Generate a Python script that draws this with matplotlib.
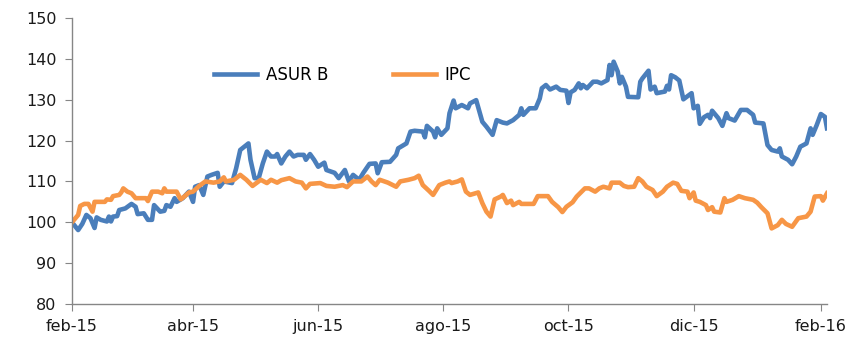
import matplotlib
matplotlib.use("Agg")
import matplotlib.pyplot as plt
import pandas as pd
import numpy as np

# dias desde el 2 de febrero de 2015
inicio = pd.Timestamp("2015-02-02")

asur_dias = [0, 3, 5, 7, 9, 11, 12, 14, 17, 18, 19, 20, 22, 23, 26, 29, 31, 32, 35, 37,
             39, 40, 43, 45, 46, 48, 50, 51, 54, 57, 59, 60, 62, 64, 66, 68, 71, 72, 74, 78,
             80, 82, 84, 86, 87, 89, 91, 93, 95, 97, 99, 100, 102, 104, 106, 108, 110, 113, 114, 116,
             118, 120, 123, 124, 128, 130, 133, 135, 137, 140, 142, 145, 148, 149, 151, 155, 158, 159, 163, 165,
             167, 171, 172, 173, 176, 177, 178, 180, 183, 184, 186, 187, 190, 193, 194, 197, 200, 202, 205, 207,
             210, 212, 215, 218, 219, 220, 223, 226, 228, 229, 231, 233, 236, 238, 241, 242, 243, 245, 247, 248,
             249, 251, 254, 256, 258, 261, 262, 263, 264, 266, 267, 268, 270, 271, 276, 277, 278, 281, 282, 284,
             285, 289, 290, 291, 292, 294, 296, 298, 301, 302, 303, 305, 306, 308, 310, 311, 312, 315, 317, 319,
             320, 323, 326, 329, 332, 333, 337, 339, 341, 344, 345, 346, 349, 351, 353, 355, 358, 360, 361, 363,
             365, 367, 368]
asur_b = [100.0, 98.1, 99.6, 101.8, 101.0, 98.6, 101.2, 100.6, 100.2, 101.4, 100.2, 101.4, 101.5, 103.0, 103.4, 104.5, 103.8, 102.0, 102.2, 100.6,
          100.6, 104.2, 102.6, 102.8, 104.2, 103.8, 105.9, 105.0, 105.9, 107.5, 105.0, 108.7, 109.1, 106.7, 111.2, 111.6, 112.1, 108.7, 110.0, 109.6,
          113.2, 117.7, 118.5, 119.3, 115.3, 110.8, 110.8, 114.4, 117.3, 116.1, 116.1, 116.7, 114.4, 116.1, 117.3, 116.1, 116.5, 116.5, 115.3, 116.7,
          115.3, 113.6, 114.6, 112.8, 112.1, 110.8, 112.8, 110.0, 111.6, 110.4, 112.1, 114.3, 114.4, 112.0, 114.7, 114.8, 116.5, 118.1, 119.3, 122.2,
          122.4, 122.2, 120.8, 123.6, 122.2, 120.8, 123.0, 121.4, 123.0, 126.7, 129.8, 127.9, 128.7, 127.9, 129.1, 129.9, 124.6, 123.4, 121.4, 125.0,
          124.4, 124.2, 125.0, 126.3, 127.9, 126.3, 127.9, 127.9, 130.3, 132.8, 133.6, 132.5, 133.2, 132.4, 132.2, 129.2, 131.8, 132.4, 134.0, 132.8,
          133.6, 132.8, 134.4, 134.4, 134.0, 134.8, 138.5, 136.0, 139.3, 136.9, 134.0, 135.6, 133.2, 130.7, 130.6, 134.4, 135.2, 137.1, 132.5, 133.2,
          131.6, 132.0, 133.4, 132.5, 136.0, 135.5, 134.7, 130.1, 131.2, 131.6, 127.9, 128.5, 124.1, 125.7, 126.3, 125.5, 127.3, 125.5, 123.6, 126.7,
          125.5, 124.9, 127.5, 127.5, 126.3, 124.4, 124.2, 118.9, 117.7, 117.3, 118.1, 116.1, 115.3, 114.2, 116.1, 118.5, 119.3, 123.0, 121.4, 123.8,
          126.5, 125.8, 123.0]

ipc_dias = [0, 3, 4, 6, 8, 10, 11, 14, 16, 17, 19, 20, 23, 24, 25, 27, 29, 31, 33, 36,
            37, 39, 42, 44, 45, 46, 51, 53, 55, 57, 59, 62, 65, 69, 72, 74, 75, 79, 82, 85,
            88, 92, 95, 97, 100, 102, 106, 109, 112, 114, 116, 121, 124, 128, 132, 134, 137, 141, 144, 146,
            148, 150, 154, 158, 160, 164, 167, 169, 171, 174, 176, 179, 182, 184, 185, 188, 190, 192, 194, 198,
            200, 202, 204, 206, 209, 210, 212, 214, 215, 218, 219, 225, 227, 232, 234, 237, 239, 241, 244, 246,
            250, 252, 255, 257, 259, 262, 263, 267, 269, 271, 274, 276, 278, 280, 283, 285, 288, 290, 293, 295,
            297, 300, 301, 303, 304, 306, 309, 310, 312, 313, 316, 318, 319, 322, 325, 328, 332, 334, 336, 339,
            341, 344, 346, 348, 351, 354, 358, 360, 362, 365, 366, 368]
ipc = [100.0, 101.8, 104.0, 104.5, 104.5, 102.6, 105.0, 105.0, 105.0, 105.6, 105.5, 106.4, 106.7, 107.3, 108.3, 107.5, 107.1, 105.9, 105.9, 105.9,
       105.2, 107.5, 107.5, 107.1, 108.3, 107.5, 107.5, 105.6, 106.4, 107.3, 107.5, 108.9, 110.0, 109.7, 110.0, 111.0, 110.0, 110.4, 111.6, 110.4,
       108.9, 110.4, 109.6, 110.4, 109.7, 110.3, 110.8, 110.0, 109.7, 108.3, 109.4, 109.6, 108.9, 108.7, 109.1, 108.6, 110.0, 110.0, 111.2, 110.0,
       109.1, 110.4, 109.7, 108.7, 110.0, 110.4, 110.8, 111.4, 109.1, 107.7, 106.7, 109.1, 109.7, 110.0, 109.6, 110.0, 110.5, 107.5, 106.7, 107.3,
       104.7, 102.6, 101.4, 105.6, 106.3, 106.7, 104.7, 105.3, 104.2, 105.0, 104.5, 104.5, 106.4, 106.4, 105.0, 103.7, 102.5, 103.8, 104.9, 106.3,
       108.3, 108.3, 107.5, 108.3, 108.7, 108.3, 109.7, 109.7, 108.9, 108.6, 108.7, 110.8, 110.0, 108.7, 107.9, 106.4, 107.5, 108.7, 109.7, 109.4,
       107.7, 107.5, 105.9, 107.3, 105.3, 105.0, 104.2, 103.0, 103.7, 102.6, 102.4, 105.9, 105.0, 105.5, 106.4, 105.9, 105.5, 104.8, 103.7, 102.2,
       98.5, 99.3, 100.6, 99.6, 98.9, 101.0, 101.4, 102.6, 106.3, 106.4, 105.3, 107.1]

ticks_x = ["2015-02-02", "2015-04-02", "2015-06-02", "2015-08-02", "2015-10-02", "2015-12-02", "2016-02-02"]
etiquetas_x = ["feb-15", "abr-15", "jun-15", "ago-15", "oct-15", "dic-15", "feb-16"]

fechas_asur = inicio + pd.to_timedelta(asur_dias, unit="D")
fechas_ipc = inicio + pd.to_timedelta(ipc_dias, unit="D")

fig = plt.figure(figsize=(8.53, 3.52), dpi=100)
ax = fig.add_axes([72 / 853, 1 - 304 / 352, (827 - 72) / 853, (304 - 18) / 352])

ax.plot(fechas_asur, asur_b, color="#4a7ebb", lw=3.3, label="ASUR B", solid_joinstyle="round")
ax.plot(fechas_ipc, ipc, color="#f79646", lw=3.3, label="IPC", solid_joinstyle="round")

ax.set_ylim(80, 150)
ax.set_yticks(np.arange(80, 151, 10))
ax.set_xlim(inicio, inicio + pd.Timedelta(days=368))
ax.set_xticks(pd.to_datetime(ticks_x))
ax.set_xticklabels(etiquetas_x)

for s in ["top", "right"]:
    ax.spines[s].set_visible(False)
for s in ["left", "bottom"]:
    ax.spines[s].set_color("#868686")
    ax.spines[s].set_linewidth(1)
ax.tick_params(axis="both", direction="out", length=5, color="#868686", labelsize=11.5, labelcolor="#1a1a1a")
ax.tick_params(axis="y", pad=6)
ax.tick_params(axis="x", pad=6)

fig.legend(loc="center left", bbox_to_anchor=(214 / 853, 1 - 75 / 352), ncol=2, frameon=False,
           fontsize=12, handlelength=2.6, handletextpad=0.5, columnspacing=3.9,
           borderpad=0, borderaxespad=0)

fig.savefig("out.png", dpi=100)
